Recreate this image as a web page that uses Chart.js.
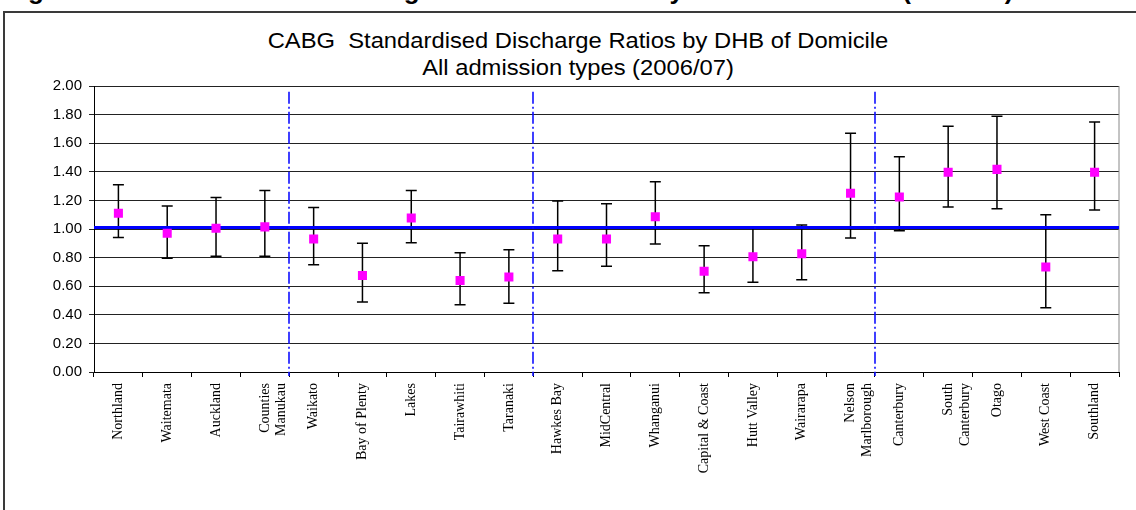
<!DOCTYPE html>
<html>
<head>
<meta charset="utf-8">
<script src="https://cdn.jsdelivr.net/npm/chart.js@4"></script>
<style>
  body { margin: 0; background: #fff; overflow: hidden; width: 1136px; height: 510px; position: relative; }
  #heading { position: absolute; left: 5px; top: -25px; font: bold 26px "Liberation Sans", Arial, sans-serif; line-height: 30px; white-space: nowrap; color: #000; }
  #frame { position: absolute; left: 3px; top: 11px; width: 1200px; height: 600px; border-top: 2px solid #3a3a3a; border-left: 2px solid #3a3a3a; background: transparent; }
  #title { position: absolute; left: 0; top: 27px; width: 1156px; text-align: center; font: 22px "Liberation Sans", Arial, sans-serif; line-height: 27px; color: #000; transform: scaleX(1.08); transform-origin: center; }
  #wrap { position: absolute; left: 0; top: 0; width: 1136px; height: 510px; }
</style>
</head>
<body>
<div id="heading">Figure 40: Standardised Discharge Ratios for CABG by DHB of Domicile (2006/07)</div>
<div id="frame"></div>
<div id="title">CABG&nbsp; Standardised Discharge Ratios by DHB of Domicile<br>All admission types (2006/07)</div>
<div id="wrap"><canvas id="myChart" width="1136" height="510"></canvas></div>
<script>
// DHBs of domicile
const dhbs = ['Northland', 'Waitemata', 'Auckland', ['Counties', 'Manukau'], 'Waikato', 'Bay of Plenty', 'Lakes',
    'Tairawhiti', 'Taranaki', 'Hawkes Bay', 'MidCentral', 'Whanganui', 'Capital & Coast', 'Hutt Valley', 'Wairarapa',
    ['Nelson', 'Marlborough'], 'Canterbury', ['South', 'Canterbury'], 'Otago', 'West Coast', 'Southland']

// standardised discharge ratio and 95% CI
const sdr   = [1.11, 0.97, 1.005, 1.015, 0.93, 0.675, 1.077, 0.64, 0.664, 0.93, 0.93, 1.086, 0.704, 0.806, 0.827, 1.25, 1.224, 1.397, 1.417, 0.734, 1.397]
const lower = [0.94, 0.795, 0.81, 0.81, 0.75, 0.49, 0.904, 0.47, 0.48, 0.708, 0.74, 0.895, 0.555, 0.627, 0.645, 0.937, 0.988, 1.154, 1.142, 0.45, 1.133]
const upper = [1.31, 1.16, 1.22, 1.27, 1.15, 0.90, 1.27, 0.834, 0.855, 1.196, 1.177, 1.33, 0.883, 1.01, 1.028, 1.67, 1.506, 1.718, 1.788, 1.10, 1.748]

const yTicks = [0, 0.2, 0.4, 0.6, 0.8, 1.0, 1.2, 1.4, 1.6, 1.8, 2.0]
const nzRatio = 1.01          // national line
const regionEnds = [3, 8, 15] // last DHB of each region before a divider
const dividerTop = 1.96

const extras = {
    id: 'extras',
    beforeDatasetsDraw(chart) {
        const ctx = chart.ctx
        const x = chart.scales.x
        const y = chart.scales.y
        const area = chart.chartArea
        ctx.save()

        // plot area right edge
        ctx.strokeStyle = '#888'
        ctx.lineWidth = 1
        ctx.beginPath()
        ctx.moveTo(area.right, area.top)
        ctx.lineTo(area.right, area.bottom)
        ctx.stroke()

        // error bars
        ctx.strokeStyle = '#000'
        ctx.lineWidth = 1.5
        sdr.forEach((v, i) => {
            const px = x.getPixelForValue(i)
            const lo = y.getPixelForValue(lower[i])
            const hi = y.getPixelForValue(upper[i])
            ctx.beginPath()
            ctx.moveTo(px, lo); ctx.lineTo(px, hi)
            ctx.moveTo(px - 5.5, lo); ctx.lineTo(px + 5.5, lo)
            ctx.moveTo(px - 5.5, hi); ctx.lineTo(px + 5.5, hi)
            ctx.stroke()
        })

        // national ratio line
        ctx.strokeStyle = '#0000ff'
        ctx.lineWidth = 3
        ctx.beginPath()
        ctx.moveTo(area.left, y.getPixelForValue(nzRatio))
        ctx.lineTo(area.right, y.getPixelForValue(nzRatio))
        ctx.stroke()

        // region dividers
        ctx.strokeStyle = '#1010ff'
        ctx.lineWidth = 1.6
        ctx.setLineDash([12, 3, 2, 3])
        regionEnds.forEach(i => {
            const px = Math.round((x.getPixelForValue(i) + x.getPixelForValue(i + 1)) / 2)
            ctx.beginPath()
            ctx.moveTo(px, y.getPixelForValue(dividerTop))
            ctx.lineTo(px, area.bottom + 4)
            ctx.stroke()
        })
        ctx.restore()
    }
}

const ctx = document.getElementById('myChart').getContext('2d')
const myChart = new Chart(ctx, {
    type: 'line',
    data: {
        labels: dhbs,
        datasets: [{
            label: 'SDR',
            data: sdr,
            showLine: false,
            pointStyle: 'rect',
            pointRadius: 6.4,
            pointHoverRadius: 6.4,
            pointBackgroundColor: '#ff00ff',
            pointBorderWidth: 0
        }]
    },
    options: {
        responsive: false,
        animation: false,
        events: [],
        layout: { padding: { top: 86, right: 17, left: 0, bottom: 0 } },
        plugins: { legend: { display: false }, tooltip: { enabled: false }, title: { display: false } },
        scales: {
            x: {
                offset: true,
                grid: { offset: true, drawOnChartArea: false, drawTicks: true, tickLength: 5, color: '#000' },
                border: { color: '#000', width: 1 },
                ticks: {
                    autoSkip: false, maxRotation: 90, minRotation: 90, padding: 6, color: '#000',
                    font: { family: '"Liberation Serif", "Times New Roman", serif', size: 14 }
                },
                afterFit(scale) { scale.height = 138; scale.paddingLeft = 0; scale.paddingRight = 0 }
            },
            y: {
                min: 0,
                max: 2,
                afterBuildTicks(scale) { scale.ticks = yTicks.map(v => ({ value: v })) },
                grid: { color: '#222', tickLength: 5, drawTicks: true },
                border: { color: '#000', width: 1 },
                ticks: {
                    padding: 7, color: '#000',
                    font: { family: '"Liberation Sans", Arial, sans-serif', size: 15 },
                    callback: v => v.toFixed(2)
                },
                afterFit(scale) { scale.width = 94 }
            }
        }
    },
    plugins: [extras]
})
</script>
</body>
</html>
